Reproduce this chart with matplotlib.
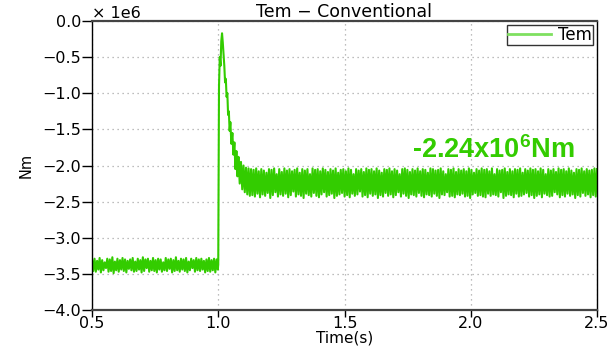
import numpy as np
import matplotlib
matplotlib.use("Agg")
import matplotlib.pyplot as plt

# ---- data (values in units of 1e6 Nm) ----
pre_t_range = (0.5, 0.9985)
pre_vals = [
    -3.30, -3.46, -3.29, -3.47, -3.32, -3.44, -3.28, -3.48, -3.31, -3.45,
    -3.34, -3.42, -3.29, -3.47, -3.30, -3.46, -3.27, -3.49, -3.33, -3.45,
    -3.29, -3.47, -3.31, -3.44, -3.28, -3.46, -3.30, -3.48, -3.32, -3.43,
    -3.30, -3.45, -3.28, -3.47, -3.33, -3.46, -3.29, -3.44, -3.31, -3.48,
    -3.27, -3.46, -3.30, -3.42, -3.29, -3.47, -3.32, -3.45, -3.28, -3.46,
    -3.31, -3.48, -3.29, -3.44, -3.30, -3.47, -3.34, -3.45, -3.28, -3.46,
    -3.30, -3.43, -3.29, -3.48, -3.31, -3.46, -3.27, -3.45, -3.32, -3.47,
    -3.29, -3.44, -3.30, -3.46, -3.28, -3.48, -3.33, -3.45, -3.29, -3.42,
    -3.31, -3.47, -3.28, -3.45, -3.30, -3.46, -3.29, -3.44, -3.32, -3.48,
    -3.30, -3.46, -3.28, -3.47, -3.31, -3.45, -3.29, -3.48, -3.30, -3.44,
]

tr_t = [1.000, 1.003, 1.006, 1.009, 1.012, 1.015, 1.018, 1.021, 1.024, 1.027,
        1.030, 1.033, 1.036, 1.039, 1.042, 1.045, 1.048, 1.052, 1.056, 1.060,
        1.064, 1.068, 1.072, 1.076, 1.080, 1.085, 1.090, 1.095, 1.100, 1.105,
        1.110, 1.115, 1.120, 1.125, 1.130]
tr_vals = [-3.36, -0.90, -0.50, -0.62, -0.28, -0.17, -0.30, -0.45, -0.62, -0.85,
           -0.80, -1.05, -1.00, -1.30, -1.25, -1.52, -1.40, -1.70, -1.55, -1.85,
           -1.68, -2.05, -1.80, -2.15, -1.88, -2.25, -1.95, -2.33, -2.00, -2.37,
           -2.03, -2.40, -2.04, -2.42, -2.05]

steady_t_range = (1.135, 2.5)
steady_vals = [
    -2.41, -2.06, -2.43, -2.04, -2.39, -2.08, -2.44, -2.05, -2.40, -2.07,
    -2.42, -2.10, -2.38, -2.05, -2.45, -2.06, -2.41, -2.04, -2.37, -2.12,
    -2.43, -2.05, -2.40, -2.09, -2.42, -2.04, -2.39, -2.07, -2.44, -2.05,
    -2.41, -2.08, -2.36, -2.06, -2.43, -2.04, -2.40, -2.10, -2.42, -2.05,
    -2.45, -2.07, -2.39, -2.05, -2.41, -2.12, -2.43, -2.04, -2.38, -2.06,
    -2.42, -2.05, -2.44, -2.08, -2.40, -2.04, -2.37, -2.06, -2.43, -2.09,
    -2.41, -2.05, -2.39, -2.07, -2.45, -2.04, -2.42, -2.10, -2.40, -2.06,
    -2.38, -2.05, -2.43, -2.08, -2.41, -2.04, -2.44, -2.06, -2.39, -2.12,
    -2.42, -2.05, -2.40, -2.07, -2.36, -2.05, -2.43, -2.09, -2.41, -2.04,
    -2.44, -2.06, -2.39, -2.05, -2.42, -2.08, -2.40, -2.04, -2.45, -2.07,
    -2.41, -2.10, -2.43, -2.05, -2.38, -2.06, -2.42, -2.04, -2.40, -2.08,
    -2.44, -2.05, -2.41, -2.07, -2.37, -2.12, -2.43, -2.05, -2.39, -2.04,
    -2.42, -2.06, -2.45, -2.09, -2.40, -2.05, -2.41, -2.07, -2.43, -2.04,
    -2.38, -2.08, -2.42, -2.05, -2.44, -2.06, -2.40, -2.10, -2.41, -2.04,
    -2.43, -2.05, -2.39, -2.07, -2.42, -2.06, -2.45, -2.04, -2.40, -2.08,
    -2.41, -2.12, -2.37, -2.05, -2.43, -2.06, -2.42, -2.04, -2.44, -2.09,
    -2.40, -2.05, -2.41, -2.07, -2.39, -2.05, -2.43, -2.08, -2.42, -2.04,
    -2.45, -2.06, -2.40, -2.10, -2.38, -2.05, -2.42, -2.07, -2.41, -2.04,
    -2.43, -2.06, -2.44, -2.05, -2.39, -2.08, -2.42, -2.04, -2.40, -2.12,
    -2.41, -2.05, -2.43, -2.07, -2.37, -2.06, -2.45, -2.04, -2.42, -2.09,
    -2.40, -2.05, -2.41, -2.08, -2.44, -2.05, -2.39, -2.06, -2.43, -2.04,
    -2.42, -2.10, -2.40, -2.05, -2.38, -2.07, -2.43, -2.04, -2.41, -2.06,
    -2.45, -2.05, -2.42, -2.08, -2.40, -2.04, -2.44, -2.06, -2.39, -2.12,
    -2.41, -2.05, -2.43, -2.07, -2.42, -2.05, -2.37, -2.09, -2.40, -2.04,
    -2.44, -2.06, -2.41, -2.05, -2.43, -2.08, -2.39, -2.04, -2.42, -2.07,
    -2.40, -2.10, -2.45, -2.05, -2.41, -2.06, -2.43, -2.04, -2.38, -2.08,
    -2.42, -2.05, -2.40, -2.07, -2.44, -2.06, -2.41, -2.04, -2.43, -2.05,
]

x_ticks = [0.5, 1.0, 1.5, 2.0, 2.5]
y_ticks = [-4.0, -3.5, -3.0, -2.5, -2.0, -1.5, -1.0, -0.5, 0.0]
title = "Tem \u2212 Conventional"
series_name = "Tem"
annot = "-2.24x10$^{\\mathbf{6}}$Nm"

# ---- build series ----
t = np.concatenate([
    np.linspace(pre_t_range[0], pre_t_range[1], len(pre_vals)),
    np.array(tr_t),
    np.linspace(steady_t_range[0], steady_t_range[1], len(steady_vals)),
])
v = np.concatenate([pre_vals, tr_vals, steady_vals])

plt.rcParams['mathtext.fontset'] = 'custom'
plt.rcParams['mathtext.bf'] = 'Liberation Sans:bold'
plt.rcParams['mathtext.rm'] = 'Liberation Sans'

fig = plt.figure(figsize=(6.13, 3.46), dpi=100)
ax = fig.add_axes([92/613, 1-310/346, (597-92)/613, (310-21)/346])

green = '#33cc00'
ax.plot(t, v, color=green, lw=1.5, label=series_name)

ax.set_xlim(0.5, 2.5)
ax.set_ylim(-4.0, 0.0)
ax.set_xticks(x_ticks)
ax.set_yticks(y_ticks)
ax.set_xticklabels([f"{x:.1f}" for x in x_ticks])
ax.set_yticklabels([f"{y:.1f}".replace('-', '\u2212') for y in y_ticks])
ax.tick_params(axis='both', direction='out', length=7, width=1, labelsize=11.5,
               colors='black', pad=1)
ax.tick_params(axis='x', length=5, pad=-1)
ax.grid(True, color='#a8a8a8', linestyle=(0, (1, 3)), linewidth=0.9)

for s in ['left', 'right']:
    ax.spines[s].set_color('black')
    ax.spines[s].set_linewidth(1.0)
for s in ['top', 'bottom']:
    ax.spines[s].set_color('#444444')
    ax.spines[s].set_linewidth(1.6)

ax.set_title(title, fontsize=12.5, pad=2)
ax.set_xlabel("Time(s)", fontsize=11, labelpad=0)
ax.set_ylabel("Nm", fontsize=10.5, labelpad=6)
ax.text(0.0, 1.0, "\u00d7 1e6", transform=ax.transAxes, fontsize=11.5,
        ha='left', va='bottom')

ax.text(0.795, 0.555, annot, transform=ax.transAxes, fontsize=19.5,
        fontweight='bold', family='Liberation Sans', color=green,
        ha='center', va='center')

leg = ax.legend(loc='upper right', fontsize=12, frameon=True, fancybox=False,
                borderaxespad=0.25, borderpad=0.05, handlelength=2.6,
                handletextpad=0.4)
leg.get_frame().set_edgecolor('black')
leg.get_frame().set_linewidth(1.0)
leg.get_lines()[0].set_color('#7fe060')
leg.get_lines()[0].set_linewidth(2)

fig.savefig("out.png", dpi=100)
